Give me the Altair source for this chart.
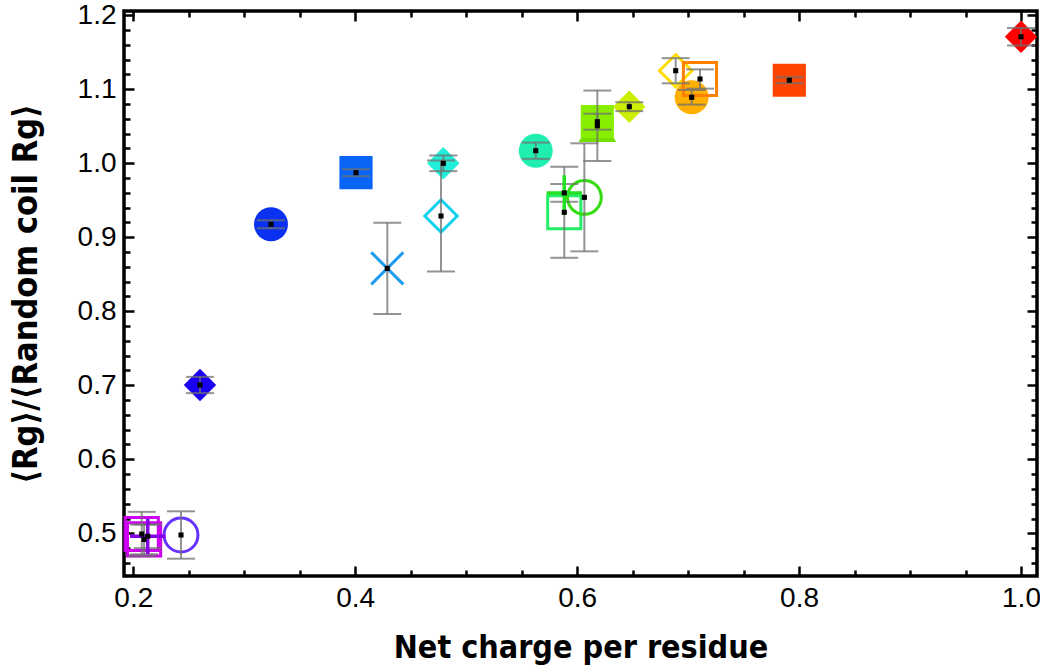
import altair as alt
import pandas as pd

# ---- data ----
x_vals = [0.2076, 0.2097, 0.2130, 0.2430, 0.2601, 0.3241, 0.4007, 0.4289, 0.4773, 0.4794,
          0.5627, 0.5884, 0.5884, 0.6065, 0.6182, 0.6182, 0.6470, 0.6888, 0.7032, 0.7107,
          0.7912, 1.0000]
y_vals = [0.499, 0.4917, 0.496, 0.4977, 0.7004, 0.9176, 0.9873, 0.858, 0.9288, 1.000,
          1.017, 0.9338, 0.960, 0.954, 1.0507, 1.0562, 1.0765, 1.1251, 1.0892, 1.1139,
          1.1122, 1.171]
y_errs = [0.030, 0.020, 0.016, 0.032, 0.011, 0.0054, 0.0047, 0.0617, 0.075, 0.0106,
          0.011, 0.0615, 0.012, 0.073, 0.0476, 0.0108, 0.006, 0.017, 0.0099, 0.013,
          0.004, 0.0118]
colors = ["#cc00ee", "#cc00ee", "#8400e6", "#6633ff", "#1a00f0", "#0a30f0", "#0a64f5",
          "#1e9cf0", "#10d0f0", "#20eed8", "#20eeb0", "#22ee66", "#22e022", "#33dd11",
          "#77dd00", "#88ee00", "#ccee00", "#ffdd00", "#ffb000", "#ff8000", "#ff4500",
          "#ff0000"]
shapes = ["square", "square", "plus", "circle", "diamond", "circle", "square", "x",
          "diamond", "diamond", "circle", "square", "plus", "circle", "triangle-up",
          "square", "diamond", "diamond", "circle", "square", "square", "diamond"]
filled = [False, False, False, False, True, True, True, False, False, True, True, False,
          False, False, True, True, True, False, True, False, True, True]

x_major = [0.2, 0.4, 0.6, 0.8, 1.0]
x_minor = [0.25, 0.3, 0.35, 0.45, 0.5, 0.55, 0.65, 0.7, 0.75, 0.85, 0.9, 0.95]
y_major = [0.5, 0.6, 0.7, 0.8, 0.9, 1.0, 1.1, 1.2]
y_minor = [0.44, 0.46, 0.48, 0.52, 0.54, 0.56, 0.58, 0.62, 0.64, 0.66, 0.68, 0.72, 0.74,
           0.76, 0.78, 0.82, 0.84, 0.86, 0.88, 0.92, 0.94, 0.96, 0.98, 1.02, 1.04, 1.06,
           1.08, 1.12, 1.14, 1.16, 1.18]

# ---- styles ----
SHAPE_PATHS = {
    "plus": "M -1 0 L 1 0 M 0 -1 L 0 1",
    "x": "M -1 -1 L 1 1 M 1 -1 L -1 1",
}
SIZES = {"square": 1100, "circle": 1150, "diamond": 1050, "triangle-up": 1400,
         "plus": 1250, "x": 1024}

df = pd.DataFrame({"x": x_vals, "y": y_vals, "err": y_errs, "color": colors,
                   "shape": shapes, "filled": filled})
df["ylo"] = df["y"] - df["err"]
df["yhi"] = df["y"] + df["err"]
df["sym"] = df["shape"].map(lambda s: SHAPE_PATHS.get(s, s))
df["size"] = df["shape"].map(SIZES)
df["isplus"] = df["shape"] == "plus"

xs = alt.Scale(domain=[0.19162, 1.01442], nice=False, zero=False)
ys = alt.Scale(domain=[0.4423, 1.2058], nice=False, zero=False)

LAB = "Liberation Sans Narrow, Liberation Sans, Arial, sans-serif"
LABY = "Liberation Sans, Arial, sans-serif"
TITLEF = "DejaVu Sans Condensed, Liberation Sans, Arial, sans-serif"
TICK = dict(tickColor="black", tickWidth=2.5, domain=False, grid=False)
MAJ, MIN = 10, 6

ax_bottom = alt.Axis(orient="bottom", values=x_major, offset=-MAJ, tickSize=MAJ, format=".1f",
                     labelFont=LAB, labelFontSize=28, labelColor="black", labelPadding=8,
                     labelFlush=False, title="Net charge per residue", titleFont=TITLEF,
                     titleFontSize=32, titleFontWeight="bold", titleColor="black",
                     titlePadding=20, **TICK)
ax_left = alt.Axis(orient="left", values=y_major, offset=-MAJ, tickSize=MAJ, format=".1f",
                   labelFont=LABY, labelFontSize=28, labelColor="black", labelPadding=8,
                   labelFlush=False, title="\u27e8Rg\u27e9/\u27e8Random coil Rg\u27e9",
                   titleFont=TITLEF, titleFontSize=34, titleFontWeight="bold",
                   titleColor="black", titlePadding=34, **TICK)
ax_bottom_min = alt.Axis(orient="bottom", values=x_minor, offset=-MIN, tickSize=MIN,
                         labels=False, title=None, **TICK)
ax_left_min = alt.Axis(orient="left", values=y_minor, offset=-MIN, tickSize=MIN,
                       labels=False, title=None, **TICK)
ax_top = alt.Axis(orient="top", values=x_major, offset=-MAJ, tickSize=MAJ,
                  labels=False, title=None, **TICK)
ax_right = alt.Axis(orient="right", values=y_major, offset=-MAJ, tickSize=MAJ,
                    labels=False, title=None, **TICK)
ax_top_min = alt.Axis(orient="top", values=x_minor, offset=-MIN, tickSize=MIN,
                      labels=False, title=None, **TICK)
ax_right_min = alt.Axis(orient="right", values=y_minor, offset=-MIN, tickSize=MIN,
                        labels=False, title=None, **TICK)

base = alt.Chart(df)


def axis_layer(xa, ya):
    return base.mark_point(opacity=0).encode(
        x=alt.X("x:Q", scale=xs, axis=xa), y=alt.Y("y:Q", scale=ys, axis=ya))


def sym_enc():
    return dict(
        x=alt.X("x:Q", scale=xs, axis=None),
        y=alt.Y("y:Q", scale=ys, axis=None),
        color=alt.Color("color:N", scale=None),
        shape=alt.Shape("sym:N", scale=None),
        size=alt.Size("size:Q", scale=None),
    )


filled_pts = base.transform_filter("datum.filled").mark_point(filled=True, opacity=1).encode(
    x=alt.X("x:Q", scale=xs, axis=ax_bottom),
    y=alt.Y("y:Q", scale=ys, axis=ax_left),
    color=alt.Color("color:N", scale=None),
    shape=alt.Shape("sym:N", scale=None),
    size=alt.Size("size:Q", scale=None),
)
open_pts = base.transform_filter("!datum.filled && !datum.isplus").mark_point(
    filled=False, opacity=1, strokeWidth=3).encode(**sym_enc())
plus_pts = base.transform_filter("datum.isplus").mark_point(
    filled=False, opacity=1, strokeWidth=3.5).encode(**sym_enc())
bars = base.mark_rule(color="#707070", opacity=0.75, strokeWidth=2).encode(
    x=alt.X("x:Q", scale=xs, axis=None),
    y=alt.Y("ylo:Q", scale=ys, axis=None),
    y2="yhi:Q",
)
caps_lo = base.mark_tick(orient="horizontal", color="#707070", opacity=0.75,
                         thickness=2, size=28).encode(
    x=alt.X("x:Q", scale=xs, axis=None),
    y=alt.Y("ylo:Q", scale=ys, axis=None),
)
caps_hi = base.mark_tick(orient="horizontal", color="#707070", opacity=0.75,
                         thickness=2, size=28).encode(
    x=alt.X("x:Q", scale=xs, axis=None),
    y=alt.Y("yhi:Q", scale=ys, axis=None),
)
dots = base.mark_square(color="black", size=26, opacity=1).encode(
    x=alt.X("x:Q", scale=xs, axis=None),
    y=alt.Y("y:Q", scale=ys, axis=None),
)

chart = alt.layer(
    axis_layer(ax_bottom_min, ax_left_min),
    axis_layer(ax_top, ax_right),
    axis_layer(ax_top_min, ax_right_min),
    filled_pts, open_pts, bars, caps_lo, caps_hi, plus_pts, dots,
).resolve_axis(x="independent", y="independent").properties(
    width=913, height=565, autosize="none",
    padding={"left": 124, "top": 11, "right": 3, "bottom": 94},
    background="white",
).configure_view(stroke="black", strokeWidth=3.5)

chart.save("out.html", embed_options={"renderer": "svg", "actions": False})
